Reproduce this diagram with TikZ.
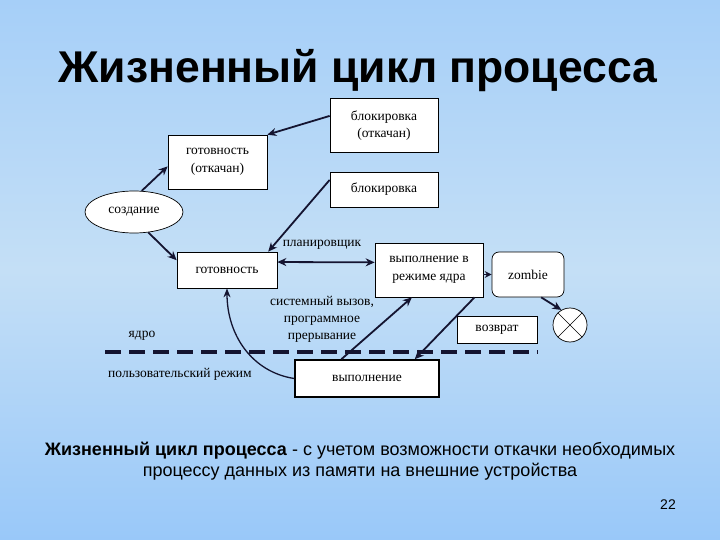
\documentclass[tikz,border=0pt]{standalone}
\usepackage{fontspec}
\setmainfont{Liberation Serif}
\newfontfamily\arialf{Liberation Sans}
\usetikzlibrary{arrows.meta,shapes.geometric}
\definecolor{bgtop}{HTML}{A6CFF8}
\definecolor{bgmid}{HTML}{C4DFF6}
\definecolor{bgbot}{HTML}{99C8F9}
\definecolor{linec}{HTML}{141430}
\begin{document}
\begin{tikzpicture}[x=1pt,y=-1pt,
  box/.style={draw=black, fill=white, line width=0.7pt, inner sep=0pt, align=center,
    font=\fontsize{13.5}{17.5}\selectfont},
  lbl/.style={inner sep=0pt, align=center, font=\fontsize{13.5}{17}\selectfont},
  conn/.style={draw=linec, line width=1.8pt, -{Stealth[length=9pt,width=8pt]}},
  biconn/.style={draw=linec, line width=1.8pt, {Stealth[length=9pt,width=8pt]}-{Stealth[length=9pt,width=8pt]}},
  thinconn/.style={draw=linec, line width=1.3pt, -{Stealth[length=9pt,width=7pt]}},
  sep/.style={draw=linec, line width=4pt, dash pattern=on 16pt off 8pt}
]
\shade[top color=bgtop, bottom color=bgbot, middle color=bgmid, shading angle=0] (0,0) rectangle (720,540);
\useasboundingbox (0,0) rectangle (720,540);

\node[font=\arialf\bfseries\fontsize{44.5}{50}\selectfont, inner sep=0pt] (title) at (358,71) {Жизненный цикл процесса};

\node[box, minimum width=108pt, minimum height=54pt] (bo) at (384,125.5) {блокировка\\(откачан)};
\node[box, minimum width=99pt, minimum height=54pt] (go) at (217.5,162) {готовность\\(откачан)};
\node[box, minimum width=108pt, minimum height=35pt] (bl) at (384,189.5) {блокировка};
\node[box, ellipse, minimum width=98pt, minimum height=42pt] (cr) at (134,212) {создание};
\node[box, minimum width=100pt, minimum height=36pt] (g) at (227,270) {готовность};
\node[box, minimum width=108pt, minimum height=54pt] (vk) at (429,270) {выполнение в\\режиме ядра};
\node[box, rounded corners=7pt, minimum width=72pt, minimum height=45pt] (z) at (528,274.5) {zombie};
\node[box, minimum width=80pt, minimum height=27pt] (vz) at (497,329.5) {возврат};
\node[box, circle, minimum size=34pt] (x) at (570,325) {};
\draw[line width=0.6pt] (x.45) -- (x.225) (x.135) -- (x.315);
\node[box, line width=1.6pt, minimum width=144pt, minimum height=37pt] (v) at (367,378.5) {выполнение};

\node[lbl] (plan) at (322,245) {планировщик};
\node[lbl] (sys) at (322,319) {системный вызов,\\программное\\прерывание};
\node[lbl] (yadro) at (142,336) {ядро};
\node[lbl] (user) at (180,374) {пользовательский режим};

\coordinate (d1) at (105,352);
\coordinate (d2) at (538,352);
\draw[sep] (d1) -- (d2);

\draw[conn] (bo.170) -- (go.north east);
\draw[conn] (cr.70) -- (go.185);
\draw[conn] (cr.-55) -- (g.169);
\draw[conn] (bl.170) -- (g.24);
\draw[biconn] (g.9) -- (vk.172);
\draw[draw=linec, line width=1.8pt, -{Stealth[length=7pt,width=7pt]}] (vk.east |- z.west) -- (z.west);
\draw[conn] (z.-60) -- (x.120);
\draw[conn] (v.143) -- (vk.238);
\draw[conn] (vk.-31.5) -- (v.22);
\draw[thinconn] (v.west) .. controls (252,372) and (227,335) .. (g.south);

\node[font=\arialf\fontsize{18}{21}\selectfont, align=center, inner sep=0pt] (foot) at (360,461)
  {\textbf{Жизненный цикл процесса} - с учетом возможности откачки необходимых\\процессу данных из памяти на внешние устройства};
\node[font=\arialf\fontsize{14}{16}\selectfont, inner sep=0pt] (num) at (668,505) {22};
\end{tikzpicture}
\end{document}
